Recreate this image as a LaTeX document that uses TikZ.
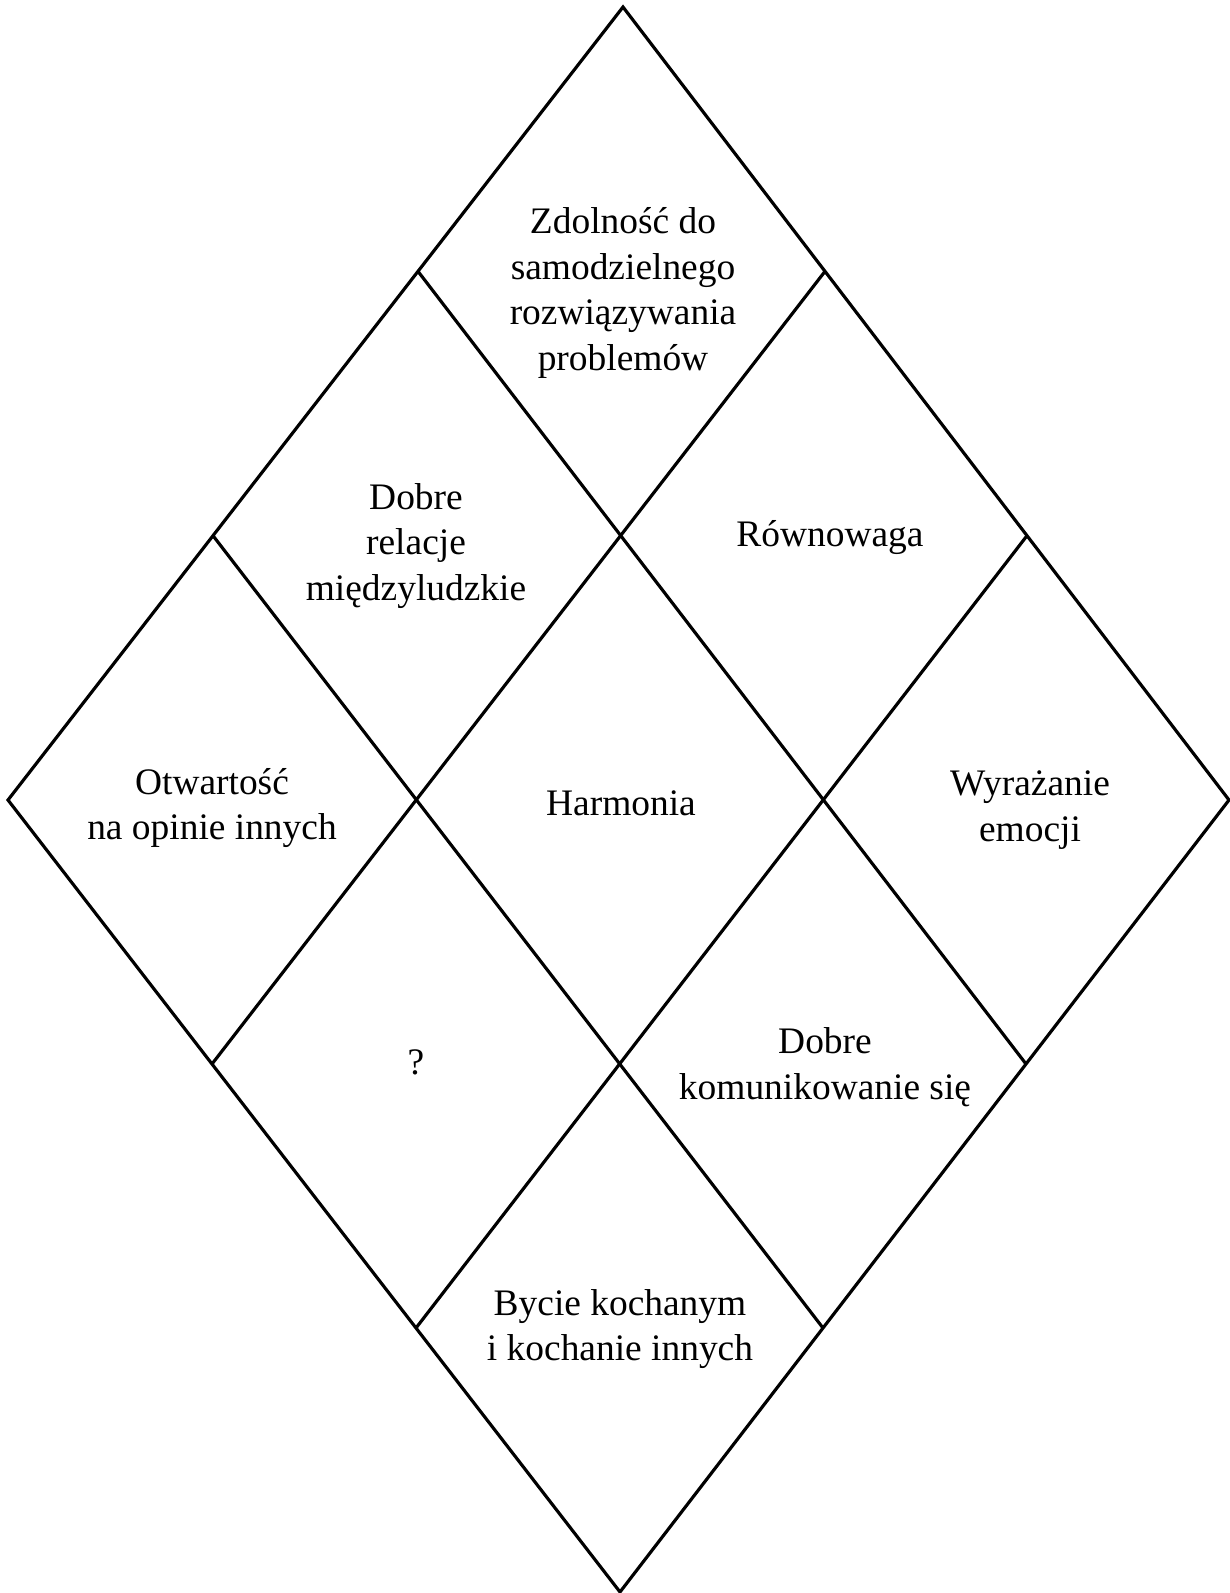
\documentclass[tikz,border=0pt]{standalone}
\usepackage{fontspec}
\setmainfont{Liberation Serif}
\usepackage{tikz}
\usetikzlibrary{calc}
\tikzset{
  cellline/.style={draw=black, line width=1.8pt, line join=miter},
  celltext/.style={font=\fontsize{21.3}{26}\selectfont, align=center, text=black, inner sep=0pt},
}
\begin{document}
\begin{tikzpicture}[x=0.02cm, y=-0.02cm]
  \useasboundingbox (0,0) rectangle (1230,1593);

  % Corners of the big diamond
  \coordinate (top) at (623,7);
  \coordinate (lft) at (8,800);
  \coordinate (rgt) at (1229,800);
  \coordinate (bot) at (620,1592);

  % Outline and inner grid
  \draw[cellline] (top) -- (rgt) -- (bot) -- (lft) -- cycle;
  \foreach \k in {1,2} {
    \draw[cellline] ($(top)!\k/3!(lft)$) -- ($(rgt)!\k/3!(bot)$);
    \draw[cellline] ($(top)!\k/3!(rgt)$) -- ($(lft)!\k/3!(bot)$);
  }

  % Row 1
  \node[celltext] (zdol) at (623,293) {Zdolność do\\samodzielnego\\rozwiązywania\\problemów};

  % Row 2
  \node[celltext] (rel)  at (416,546) {Dobre\\relacje\\międzyludzkie};
  \node[celltext] (rown) at (830,538) {Równowaga};

  % Row 3
  \node[celltext] (otw)  at (212,808) {Otwartość\\na opinie innych};
  \node[celltext] (harm) at (621,803) {Harmonia};
  \node[celltext] (emo)  at (1030,810) {Wyrażanie\\emocji};

  % Row 4
  \node[celltext] (pyt)  at (416,1062) {?};
  \node[celltext] (kom)  at (825,1067) {Dobre\\komunikowanie się};

  % Row 5
  \node[celltext] (koch) at (620,1329) {Bycie kochanym\\i kochanie innych};

\end{tikzpicture}
\end{document}
